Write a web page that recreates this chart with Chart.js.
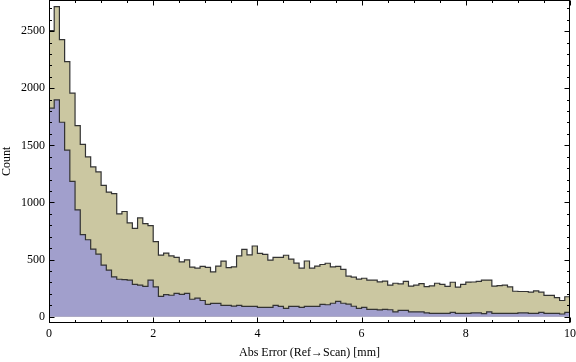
<!DOCTYPE html>
<html>
<head>
<meta charset="utf-8">
<script src="https://cdn.jsdelivr.net/npm/chart.js@4/dist/chart.umd.min.js"></script>
<style>
  body { margin: 0; background: #fff; }
  canvas { display: block; }
</style>
</head>
<body>
<canvas id="chartHist" width="576" height="362"></canvas>
<script>
// histogram counts, 100 bins of 0.1 mm from 0 to 10
var binWidth = 0.1
var allCounts = [
  2505, 2714, 2426, 2232, 1957, 1672, 1508, 1399, 1311, 1267,
  1150, 1091, 1077, 900, 921, 821, 774, 865, 815, 797,
  657, 540, 557, 532, 520, 481, 497, 435, 425, 441,
  432, 392, 443, 487, 429, 437, 532, 590, 541, 619,
  555, 546, 496, 520, 520, 538, 505, 469, 425, 488,
  425, 443, 457, 468, 436, 441, 414, 355, 346, 330,
  337, 321, 321, 305, 312, 277, 293, 287, 309, 268,
  276, 290, 263, 270, 293, 283, 265, 302, 260, 284,
  303, 304, 310, 321, 321, 268, 272, 276, 261, 223,
  221, 221, 216, 226, 215, 187, 187, 168, 142, 175
]
var subsetCounts = [
  1825, 1898, 1702, 1458, 1185, 936, 718, 674, 592, 548,
  452, 408, 349, 328, 325, 320, 284, 276, 265, 320,
  261, 179, 193, 188, 205, 196, 205, 153, 163, 142,
  108, 117, 117, 100, 100, 93, 99, 90, 90, 90,
  82, 82, 82, 99, 90, 73, 90, 90, 82, 90,
  90, 90, 108, 105, 118, 135, 118, 110, 92, 73,
  82, 64, 64, 60, 64, 61, 43, 55, 55, 43,
  43, 43, 34, 30, 30, 30, 30, 38, 30, 30,
  30, 34, 34, 27, 43, 29, 29, 29, 29, 29,
  34, 34, 29, 29, 38, 29, 29, 29, 24, 38
]
var xTicks = [0, 2, 4, 6, 8, 10]
var yTicks = [0, 500, 1000, 1500, 2000, 2500]

// turn bin counts into a step outline (left and right edge of every bin)
function stepPoints(counts) {
    var pts = []
    counts.forEach(function (c, i) {
        pts.push({ x: i * binWidth, y: c })
        pts.push({ x: (i + 1) * binWidth, y: c })
    })
    return pts
}

// Mathematica style frame: ticks on all four sides pointing inward
var framePlugin = {
    id: 'frame',
    afterDraw: function (chart) {
        var ctx = chart.ctx
        var a = chart.chartArea
        var xs = chart.scales.x
        var ys = chart.scales.y
        ctx.save()
        ctx.strokeStyle = '#000'
        ctx.lineWidth = 1
        var l = Math.round(a.left) + 0.5
        var r = Math.round(a.right) - 0.5
        var t = Math.round(a.top) + 0.5
        var b = Math.round(a.bottom) - 0.5
        ctx.strokeRect(l, t, r - l, b - t)
        ctx.beginPath()
        for (var v = 0; v <= 10.001; v += 0.5) {
            var len = Math.abs(v / 2 - Math.round(v / 2)) < 1e-6 ? 5 : 2.5
            var px = Math.round(xs.getPixelForValue(v)) + 0.5
            ctx.moveTo(px, b); ctx.lineTo(px, b - len)
            ctx.moveTo(px, t); ctx.lineTo(px, t + len)
        }
        for (var w = 0; w <= 2700; w += 100) {
            var len2 = w % 500 === 0 ? 5 : 2.5
            var py = Math.round(ys.getPixelForValue(w)) + 0.5
            ctx.moveTo(l, py); ctx.lineTo(l + len2, py)
            ctx.moveTo(r, py); ctx.lineTo(r - len2, py)
        }
        ctx.stroke()
        ctx.restore()
    }
}

var ctx = document.getElementById('chartHist').getContext('2d')
var chartHist = new Chart(ctx, {
    type: 'line',
    data: {
        datasets: [{
            label: 'subset',
            data: stepPoints(subsetCounts),
            borderColor: '#333',
            borderWidth: 1.2,
            backgroundColor: '#a19fcc',
            fill: 'origin',
            pointRadius: 0,
            tension: 0
        }, {
            label: 'all',
            data: stepPoints(allCounts),
            borderColor: '#333',
            borderWidth: 1.2,
            backgroundColor: '#cbc7a1',
            fill: 'origin',
            pointRadius: 0,
            tension: 0
        }]
    },
    options: {
        responsive: false,
        animation: false,
        layout: { padding: { top: 0, right: 6, left: 0, bottom: 0 } },
        plugins: { legend: { display: false }, tooltip: { enabled: false } },
        scales: {
            x: {
                type: 'linear',
                min: 0,
                max: 10,
                afterBuildTicks: function (s) { s.ticks = xTicks.map(function (v) { return { value: v } }) },
                afterFit: function (s) { s.paddingLeft = 0; s.paddingRight = 0 },
                grid: { display: false, drawTicks: false },
                border: { display: false },
                ticks: { color: '#000', padding: 4.3, maxRotation: 0, font: { family: 'Liberation Serif', size: 12 } },
                title: {
                    display: true,
                    text: 'Abs Error (Ref\u2192Scan) [mm]',
                    color: '#000',
                    padding: { top: 0, bottom: 1.8 },
                    font: { family: 'Liberation Serif', size: 12 }
                }
            },
            y: {
                min: -53,
                max: 2772,
                afterBuildTicks: function (s) { s.ticks = yTicks.map(function (v) { return { value: v } }) },
                afterFit: function (s) { s.paddingTop = 0; s.paddingBottom = 0 },
                grid: { display: false, drawTicks: false },
                border: { display: false },
                ticks: {
                    color: '#000',
                    padding: 4,
                    font: { family: 'Liberation Serif', size: 12 },
                    callback: function (v) { return String(v) }
                },
                title: {
                    display: true,
                    text: 'Count',
                    color: '#000',
                    padding: { top: 0, bottom: 2.6 },
                    font: { family: 'Liberation Serif', size: 12 }
                }
            }
        }
    },
    plugins: [framePlugin]
})
</script>
</body>
</html>
